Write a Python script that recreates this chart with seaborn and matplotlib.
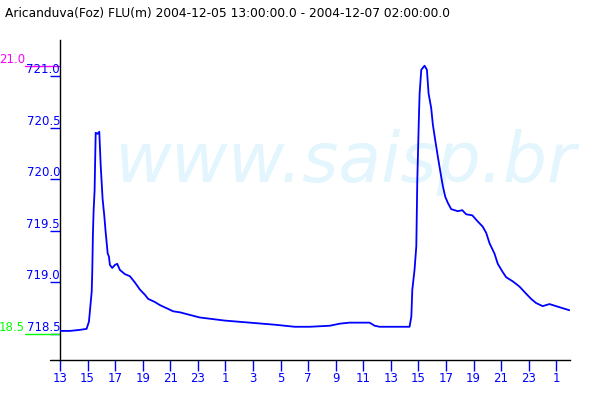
import pandas as pd
import matplotlib.pyplot as plt
import seaborn as sns

# hours after 2004-12-05 13:00 and river level (m)
hours = [0.0, 0.72, 1.45, 1.93, 2.10, 2.30, 2.34, 2.39, 2.44, 2.51, 2.56, 2.59, 2.73, 2.85,
         2.95, 3.09, 3.21, 3.31, 3.46, 3.55, 3.62, 3.79, 3.99, 4.15, 4.35, 4.71, 5.07, 5.43,
         5.80, 6.16, 6.40, 6.88, 7.25, 7.73, 8.21, 8.70, 10.14, 11.96, 13.77, 15.58, 17.03,
         18.12, 19.57, 20.29, 21.01, 22.46, 22.83, 23.19, 24.64, 25.36, 25.49, 25.56, 25.72,
         25.85, 25.92, 26.04, 26.09, 26.21, 26.45, 26.62, 26.74, 26.93, 27.05, 27.22, 27.41,
         27.66, 27.78, 27.95, 28.14, 28.38, 28.86, 29.18, 29.47, 29.91, 30.31, 30.67, 30.92,
         31.16, 31.52, 31.76, 32.12, 32.37, 32.85, 33.33, 33.82, 34.18, 34.54, 35.02, 35.51,
         35.99, 36.47, 36.96]
levels = [718.53, 718.53, 718.54, 718.55, 718.62, 718.91, 719.10, 719.48, 719.70, 719.89,
          720.25, 720.45, 720.44, 720.46, 720.14, 719.81, 719.65, 719.49, 719.28, 719.25,
          719.17, 719.14, 719.17, 719.18, 719.12, 719.08, 719.06, 719.00, 718.93, 718.88,
          718.84, 718.81, 718.78, 718.75, 718.72, 718.71, 718.66, 718.63, 718.61, 718.59,
          718.57, 718.57, 718.58, 718.60, 718.61, 718.61, 718.58, 718.57, 718.57, 718.57,
          718.67, 718.93, 719.12, 719.35, 719.98, 720.61, 720.83, 721.06, 721.10, 721.06,
          720.83, 720.69, 720.53, 720.38, 720.22, 720.02, 719.93, 719.83, 719.77, 719.71,
          719.69, 719.70, 719.66, 719.65, 719.59, 719.54, 719.48, 719.38, 719.28, 719.18,
          719.10, 719.05, 719.01, 718.96, 718.89, 718.84, 718.80, 718.77, 718.79, 718.77,
          718.75, 718.73]

xtick_pos = list(range(0, 37, 2))
xtick_labels = ['13', '15', '17', '19', '21', '23', '1', '3', '5', '7', '9', '11',
                '13', '15', '17', '19', '21', '23', '1']
ytick_vals = [718.5, 719.0, 719.5, 720.0, 720.5, 721.0]

alert_level = 721.1   # magenta mark
base_level = 718.5    # green mark

df = pd.DataFrame({'hora': hours, 'nivel': levels})

sns.set_style('white')
plt.rcParams['font.family'] = ['DejaVu Sans']

fig = plt.figure(figsize=(6, 4), dpi=100)
ax = fig.add_axes([0.1, 0.1, 0.85, 0.8])

ax.text(0.575, 0.545, 'www.saisp.br', transform=fig.transFigure, ha='center',
        va='baseline', fontsize=50, style='italic', color='#e3f5fd', zorder=0)

sns.lineplot(data=df, x='hora', y='nivel', color='#0000ff', linewidth=1.3, ax=ax, zorder=3)

ax.set_xlim(0, 37)
ax.set_ylim(718.248, 721.349)
ax.set_xlabel('')
ax.set_ylabel('')

for s in ['top', 'right']:
    ax.spines[s].set_visible(False)
ax.spines['left'].set_color('black')
ax.spines['bottom'].set_color('black')
ax.spines['left'].set_linewidth(1)
ax.spines['bottom'].set_linewidth(1)

ax.set_xticks(xtick_pos)
ax.set_xticklabels(xtick_labels, color='#0000ff', fontsize=8.5)
ax.tick_params(axis='x', bottom=True, direction='out', length=8, width=1,
               color='#0000ff', pad=1)

ax.set_yticks(ytick_vals)
ax.set_yticklabels([])
ax.tick_params(axis='y', left=True, direction='out', length=7, width=1, color='#0000ff')
for v in ytick_vals:
    ax.text(0.0, v, f'{v:.1f}', transform=ax.get_yaxis_transform(), ha='right',
            va='bottom', color='#0000ff', fontsize=8.5)

# extension of the x axis to the left
fig.add_artist(plt.Line2D([50 / 600, 0.1], [0.1, 0.1], color='black', linewidth=1))

# reference marks on the left
trans = ax.get_yaxis_transform()
ax.plot([-35 / 510, 0], [alert_level, alert_level], color='#ff00ff', linewidth=1,
        transform=trans, clip_on=False)
ax.text(-35 / 510, alert_level, '21.0', transform=trans, ha='right', va='bottom',
        color='#ff00ff', fontsize=8.5)
ax.plot([-35 / 510, 0], [base_level, base_level], color='#00ff00', linewidth=1,
        transform=trans, clip_on=False)
ax.text(-35 / 510, base_level, '18.5', transform=trans, ha='right', va='bottom',
        color='#00ff00', fontsize=8.5)

fig.text(5 / 600, 1 - 17 / 400, 'Aricanduva(Foz) FLU(m) 2004-12-05 13:00:00.0 - 2004-12-07 02:00:00.0',
         ha='left', va='baseline', fontsize=8.8, color='black')

fig.savefig('out.png', dpi=100)
